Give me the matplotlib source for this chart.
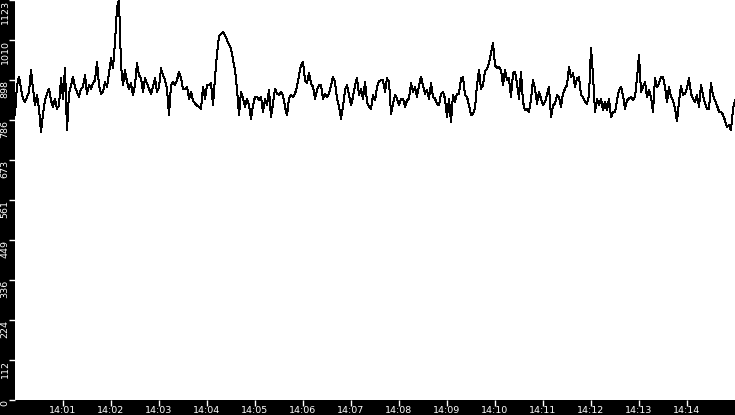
import matplotlib
matplotlib.use("Agg")
import matplotlib.pyplot as plt
import matplotlib.dates as mdates
import numpy as np
import datetime as dt

# values, one sample every 2.5 s from 14:00:00 to 14:15:00
seg1 = [799, 884, 907, 874, 846, 837, 851, 865, 926, 874,
        827, 856, 818, 752, 804, 841, 860, 874, 841, 823,
        846, 818, 827, 903, 846, 931, 757, 860, 884, 907,
        879, 865, 851, 874, 879, 912, 860, 884, 874, 889,
        898, 950, 884, 860, 865, 893, 879, 917, 959, 931,
        1006, 1101, 1123, 940, 884, 926, 893, 874, 889, 856]
seg2 = [884, 945, 912, 903, 865, 903, 889, 874, 860, 879,
        903, 865, 879, 931, 912, 898, 874, 799, 884, 893,
        884, 898, 922, 903, 874, 874, 879, 846, 865, 841,
        832, 827, 823, 818, 879, 846, 884, 884, 889, 827,
        907, 973, 1021, 1027, 1033, 1023, 1011, 997, 988, 955,
        926, 874, 799, 865, 846, 823, 846, 827, 789, 827]
seg3 = [851, 851, 841, 851, 808, 846, 827, 870, 794, 832,
        874, 860, 856, 865, 856, 823, 799, 846, 856, 851,
        860, 879, 912, 940, 950, 898, 889, 917, 889, 879,
        846, 870, 884, 884, 846, 860, 851, 860, 884, 907,
        893, 846, 823, 789, 823, 870, 884, 856, 827, 851,
        884, 903, 856, 874, 846, 893, 837, 823, 818, 856]
seg4 = [841, 879, 895, 898, 898, 865, 903, 893, 804, 832,
        856, 846, 827, 846, 846, 823, 841, 846, 889, 865,
        879, 851, 884, 907, 884, 860, 870, 846, 889, 851,
        846, 832, 827, 860, 865, 846, 794, 846, 780, 856,
        837, 860, 860, 903, 907, 856, 851, 827, 799, 804,
        818, 884, 926, 874, 884, 922, 931, 945, 973, 1002]
seg5 = [940, 931, 936, 926, 884, 926, 898, 903, 851, 917,
        922, 889, 846, 922, 837, 813, 818, 808, 846, 898,
        874, 832, 865, 846, 827, 837, 856, 879, 794, 827,
        832, 856, 851, 823, 860, 874, 884, 936, 907, 917,
        879, 903, 907, 856, 851, 837, 832, 856, 988, 912,
        808, 846, 827, 846, 813, 837, 813, 846, 794, 808]
seg6 = [808, 841, 870, 879, 856, 818, 841, 846, 851, 841,
        851, 903, 969, 865, 879, 893, 851, 870, 851, 808,
        903, 879, 889, 907, 907, 879, 837, 879, 851, 841,
        818, 782, 837, 882, 856, 860, 876, 903, 860, 846,
        837, 856, 823, 884, 856, 832, 818, 818, 889, 856,
        841, 827, 810, 808, 801, 785, 766, 771, 757, 818,
        842]
values = seg1 + seg2 + seg3 + seg4 + seg5 + seg6

start = dt.datetime(2024, 1, 1, 14, 0, 0)
end = dt.datetime(2024, 1, 1, 14, 15, 0)
step_s = 900 / (len(values) - 1)
times = [start + dt.timedelta(seconds=i * step_s) for i in range(len(values))]

y_max = 1123
y_ticks = [y_max * i / 10 for i in range(11)]
y_labels = [str(int(t)) for t in y_ticks]
x_ticks = [dt.datetime(2024, 1, 1, 14, m, 0) for m in range(1, 15)]

W, H = 735, 415
fig = plt.figure(figsize=(W / 100, H / 100), dpi=100, facecolor="black")
ax = fig.add_axes([15 / W, 15 / H, 720 / W, 400 / H], facecolor="white")
ax.plot(times, values, color="black", lw=0.72, antialiased=False)

ax.set_xlim(start, end)
ax.set_ylim(0, y_max)
ax.set_yticks(y_ticks)
ax.set_yticklabels(y_labels)
ax.set_xticks(x_ticks)
ax.xaxis.set_major_formatter(mdates.DateFormatter("%H:%M"))

ax.tick_params(axis="x", colors="white", direction="out", length=4, width=1,
               labelsize=6.8, pad=0)
ax.tick_params(axis="y", colors="white", direction="out", length=4, width=1,
               labelsize=6.8, pad=0)
for lab in ax.get_yticklabels():
    lab.set_rotation(90)
    lab.set_va("top")
    lab.set_ha("right")
for s in ax.spines.values():
    s.set_visible(False)

fig.savefig("out.png", dpi=100, facecolor="black")
